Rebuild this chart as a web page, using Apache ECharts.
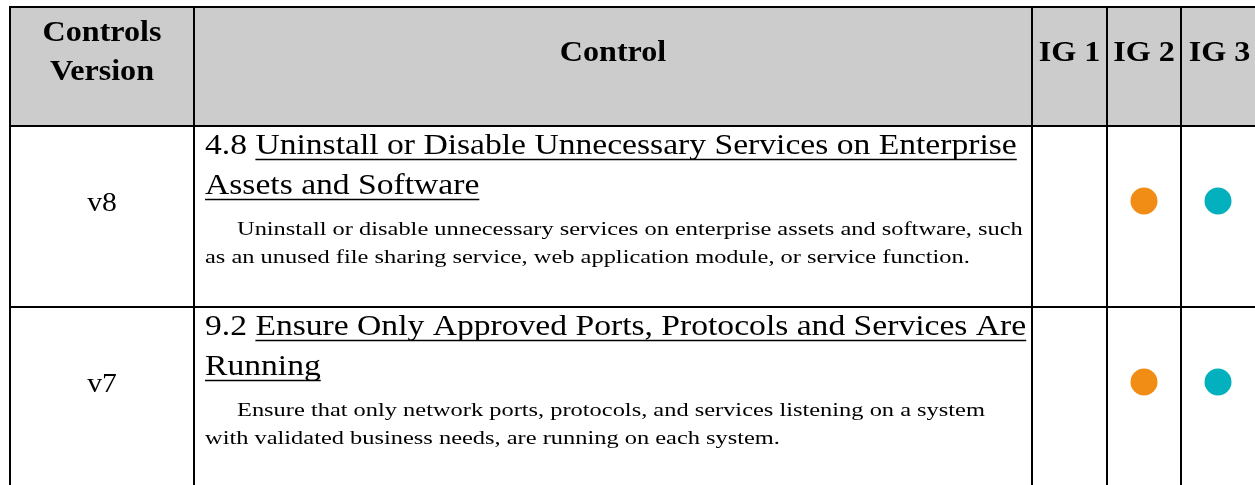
<!DOCTYPE html>
<html><head><meta charset="utf-8">
<script src="https://cdn.jsdelivr.net/npm/echarts@6/dist/echarts.min.js"></script>
<style>html,body{margin:0;padding:0;background:#fff}#c{width:1255px;height:485px}</style>
</head><body><div id="c"></div>
<script>
// ---- content ----
const headers = ['Controls\nVersion', 'Control', 'IG 1', 'IG 2', 'IG 3'];
const versions = ['v8', 'v7'];
const controlNumbers = ['4.8', '9.2'];
const controlTitles = [
  ['Uninstall or Disable Unnecessary Services on Enterprise', 'Assets and Software'],
  ['Ensure Only Approved Ports, Protocols and Services Are', 'Running']
];
const controlDescriptions = [
  ['Uninstall or disable unnecessary services on enterprise assets and software, such',
   'as an unused file sharing service, web application module, or service function.'],
  ['Ensure that only network ports, protocols, and services listening on a system',
   'with validated business needs, are running on each system.']
];
const ig1 = [false, false];
const ig2 = [true, true];
const ig3 = [true, true];

// ---- layout & style ----
const COL_W = [184, 838, 75, 74, 77];
const ROW_H = [119, 181, 182];
const VIEW_W = 1245, VIEW_H = 478;   // visible part of the table (grid box)
const HEADER_BG = '#cccccc';
const IG_COLORS = ['#f6c343', '#f18d14', '#02b0be'];
const FONT = '"Liberation Serif", "Times New Roman", serif';
const HEAD = { size: 30, scale: 1.07, mid: 46, gap: 39 };
const TITLE = { size: 30, scale: 1.12, base: [30, 70] };
const DESC = { size: 19, scale: 1.285, base: [110, 138], indent: 32 };
const VER = { size: 27, scale: 1.1, mid: 78 };
const PAD = 11;
const DOT_MID = 75;
const MID_K = 0.32;

const colX = [0]; COL_W.forEach((w, i) => colX.push(colX[i] + w));
const rowY = [0]; ROW_H.forEach((h, i) => rowY.push(rowY[i] + h));

const mctx = document.createElement('canvas').getContext('2d');
function tw(text, font) { mctx.font = font; return mctx.measureText(text).width; }
function fontStr(size, bold) { return (bold ? 'bold ' : '') + size + 'px ' + FONT; }

function textEl(text, x, y, size, bold, scale, align) {
  return {
    type: 'text', x: x, y: y, scaleX: scale, scaleY: 1, originX: 0, originY: 0,
    style: { text: text, x: 0, y: 0, font: fontStr(size, bold), fill: '#000',
      textAlign: align || 'left', textVerticalAlign: 'middle', verticalAlign: 'middle' }
  };
}

const cells = [];
for (let r = 0; r < ROW_H.length; r++) for (let c = 0; c < COL_W.length; c++) cells.push([c, r]);

function cellBox(api, c, r) {
  const p0 = api.coord([colX[c], rowY[r]]);
  const p1 = api.coord([colX[c + 1], rowY[r + 1]]);
  return { x: p0[0], y: p0[1], w: p1[0] - p0[0], h: p1[1] - p0[1] };
}

function renderCell(params, api) {
  const c = api.value(0), r = api.value(1);
  const b = cellBox(api, c, r);
  const ch = [{ type: 'rect', shape: { x: b.x, y: b.y, width: b.w, height: b.h },
    style: { fill: r === 0 ? HEADER_BG : '#fff' } }];
  if (r === 0) {
    const lines = headers[c].split('\n');
    lines.forEach((ln, i) => {
      const y = b.y + HEAD.mid + (i - (lines.length - 1) / 2) * HEAD.gap;
      ch.push(textEl(ln, b.x + b.w / 2, y, HEAD.size, true, HEAD.scale, 'center'));
    });
  } else if (c === 0) {
    ch.push(textEl(versions[r - 1], b.x + b.w / 2, b.y + VER.mid, VER.size, false, VER.scale, 'center'));
  } else if (c === 1) {
    const k = r - 1;
    const tf = fontStr(TITLE.size, false);
    controlTitles[k].forEach((ln, i) => {
      const base = b.y + TITLE.base[i];
      const y = base - MID_K * TITLE.size;
      const x = b.x + PAD;
      let txt = ln, ux = x;
      if (i === 0) {
        txt = controlNumbers[k] + ' ' + ln;
        ux = x + tw(controlNumbers[k] + ' ', tf) * TITLE.scale;
      }
      ch.push(textEl(txt, x, y, TITLE.size, false, TITLE.scale));
      const ex = x + tw(txt, tf) * TITLE.scale;
      ch.push({ type: 'line', shape: { x1: ux, y1: base + 3.5, x2: ex, y2: base + 3.5 },
        style: { stroke: '#000', lineWidth: 1.6 } });
    });
    controlDescriptions[k].forEach((ln, i) => {
      const base = b.y + DESC.base[i];
      const x = b.x + PAD + (i === 0 ? DESC.indent : 0);
      ch.push(textEl(ln, x, base - MID_K * DESC.size, DESC.size, false, DESC.scale));
    });
  }
  return { type: 'group', children: ch };
}

function renderBorder(params, api) {
  const b = cellBox(api, api.value(0), api.value(1));
  return { type: 'rect', shape: { x: b.x, y: b.y, width: b.w, height: b.h },
    style: { fill: 'none', stroke: '#000', lineWidth: 2 } };
}

const dots = [];
[ig1, ig2, ig3].forEach((arr, k) => arr.forEach((on, i) => {
  if (on) dots.push({ value: [colX[k + 2] + 37, rowY[i + 1] + DOT_MID],
    itemStyle: { color: IG_COLORS[k], opacity: 1 } });
}));

const chart = echarts.init(document.getElementById('c'), null, { renderer: 'canvas' });
chart.setOption({
  animation: false,
  backgroundColor: '#fff',
  grid: { left: 10, top: 7, width: VIEW_W, height: VIEW_H },
  xAxis: { type: 'value', min: 0, max: VIEW_W, show: false },
  yAxis: { type: 'value', min: 0, max: VIEW_H, inverse: true, show: false },
  series: [
    { type: 'custom', coordinateSystem: 'cartesian2d', renderItem: renderCell, data: cells, silent: true, z: 1, clip: false },
    { type: 'scatter', data: dots, symbol: 'circle', symbolSize: 27, silent: true, z: 3,
      itemStyle: { opacity: 1 } },
    { type: 'custom', coordinateSystem: 'cartesian2d', renderItem: renderBorder, data: cells, silent: true, z: 4, clip: false }
  ]
});
</script>
</body></html>
